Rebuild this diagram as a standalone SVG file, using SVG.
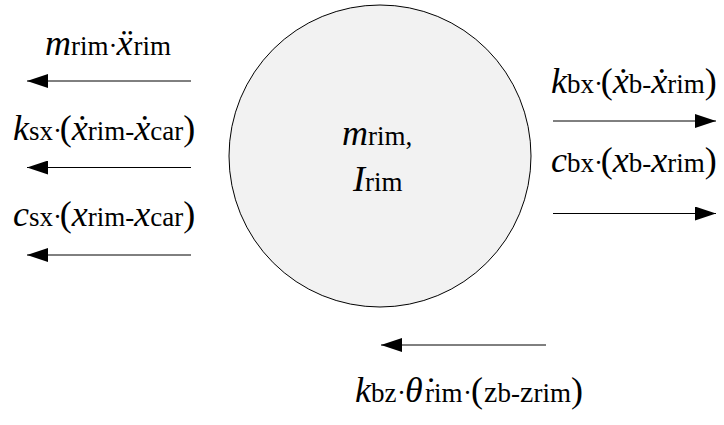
<svg xmlns="http://www.w3.org/2000/svg" width="724" height="425" viewBox="0 0 724 425">
<defs>
<marker id="ah" markerUnits="userSpaceOnUse" markerWidth="22" markerHeight="14" refX="21" refY="7" orient="auto">
<path d="M0,0 L21,7 L0,14 Z" fill="#000"/>
</marker>
</defs>
<g id="rim">
<circle cx="380" cy="156" r="151" fill="#f2f2f2" stroke="#000" stroke-width="1"/>
<text x="342" y="145" font-family="Liberation Serif" font-size="36" font-style="italic">m</text>
<text x="368" y="145" font-family="Liberation Serif" font-size="27">rim,</text>
<text x="353" y="191" font-family="Liberation Serif" font-size="36" font-style="italic">I</text>
<text x="365" y="191" font-family="Liberation Serif" font-size="27">rim</text>
</g>
<g id="connectors" stroke="#000" stroke-width="1" fill="none">
<line x1="191" y1="81" x2="27" y2="81" marker-end="url(#ah)"/>
<line x1="191" y1="167.5" x2="27" y2="167.5" marker-end="url(#ah)"/>
<line x1="191" y1="255" x2="27" y2="255" marker-end="url(#ah)"/>
<line x1="553" y1="121" x2="716" y2="121" marker-end="url(#ah)"/>
<line x1="553" y1="213.5" x2="716" y2="213.5" marker-end="url(#ah)"/>
<line x1="546" y1="345" x2="381" y2="345" marker-end="url(#ah)"/>
</g>
<g id="label-inertia">
<text x="45" y="55" font-family="Liberation Serif" font-size="36" font-style="italic">m</text>
<text x="71" y="55" font-family="Liberation Serif" font-size="27">rim</text>
<text x="108.5" y="55" font-family="Liberation Serif" font-size="27">·</text>
<text x="116.5" y="55" font-family="Liberation Serif" font-size="36" font-style="italic">ẍ</text>
<text x="133.5" y="55" font-family="Liberation Serif" font-size="27">rim</text>
</g>
<g id="label-ksx">
<text x="13" y="140" font-family="Liberation Serif" font-size="36" font-style="italic">k</text>
<text x="29" y="140" font-family="Liberation Serif" font-size="27">sx</text>
<text x="53" y="140" font-family="Liberation Serif" font-size="27">·</text>
<text x="59.75" y="140" font-family="Liberation Serif" font-size="36">(</text>
<text x="71.75" y="140" font-family="Liberation Serif" font-size="36" font-style="italic">ẋ</text>
<text x="87.75" y="140" font-family="Liberation Serif" font-size="27">rim</text>
<text x="125.25" y="140" font-family="Liberation Serif" font-size="27">-</text>
<text x="134.25" y="140" font-family="Liberation Serif" font-size="36" font-style="italic">ẋ</text>
<text x="150.25" y="140" font-family="Liberation Serif" font-size="27">car</text>
<text x="183.25" y="140" font-family="Liberation Serif" font-size="36">)</text>
</g>
<g id="label-csx">
<text x="13" y="226" font-family="Liberation Serif" font-size="36" font-style="italic">c</text>
<text x="29" y="226" font-family="Liberation Serif" font-size="27">sx</text>
<text x="53" y="226" font-family="Liberation Serif" font-size="27">·</text>
<text x="59.75" y="226" font-family="Liberation Serif" font-size="36">(</text>
<text x="71.75" y="226" font-family="Liberation Serif" font-size="36" font-style="italic">x</text>
<text x="87.75" y="226" font-family="Liberation Serif" font-size="27">rim</text>
<text x="125.25" y="226" font-family="Liberation Serif" font-size="27">-</text>
<text x="134.25" y="226" font-family="Liberation Serif" font-size="36" font-style="italic">x</text>
<text x="150.25" y="226" font-family="Liberation Serif" font-size="27">car</text>
<text x="183.25" y="226" font-family="Liberation Serif" font-size="36">)</text>
</g>
<g id="label-kbx">
<text x="551" y="93" font-family="Liberation Serif" font-size="36" font-style="italic">k</text>
<text x="567" y="93" font-family="Liberation Serif" font-size="27">bx</text>
<text x="594" y="93" font-family="Liberation Serif" font-size="27">·</text>
<text x="600.75" y="93" font-family="Liberation Serif" font-size="36">(</text>
<text x="612.75" y="93" font-family="Liberation Serif" font-size="36" font-style="italic">ẋ</text>
<text x="628.75" y="93" font-family="Liberation Serif" font-size="27">b</text>
<text x="642.25" y="93" font-family="Liberation Serif" font-size="27">-</text>
<text x="651.25" y="93" font-family="Liberation Serif" font-size="36" font-style="italic">ẋ</text>
<text x="667.25" y="93" font-family="Liberation Serif" font-size="27">rim</text>
<text x="704.75" y="93" font-family="Liberation Serif" font-size="36">)</text>
</g>
<g id="label-cbx">
<text x="551" y="172" font-family="Liberation Serif" font-size="36" font-style="italic">c</text>
<text x="567" y="172" font-family="Liberation Serif" font-size="27">bx</text>
<text x="594" y="172" font-family="Liberation Serif" font-size="27">·</text>
<text x="600.75" y="172" font-family="Liberation Serif" font-size="36">(</text>
<text x="612.75" y="172" font-family="Liberation Serif" font-size="36" font-style="italic">x</text>
<text x="628.75" y="172" font-family="Liberation Serif" font-size="27">b</text>
<text x="642.25" y="172" font-family="Liberation Serif" font-size="27">-</text>
<text x="651.25" y="172" font-family="Liberation Serif" font-size="36" font-style="italic">x</text>
<text x="667.25" y="172" font-family="Liberation Serif" font-size="27">rim</text>
<text x="704.75" y="172" font-family="Liberation Serif" font-size="36">)</text>
</g>
<g id="label-kbz">
<text x="355" y="402" font-family="Liberation Serif" font-size="36" font-style="italic">k</text>
<text x="371" y="402" font-family="Liberation Serif" font-size="27">bz</text>
<text x="397" y="402" font-family="Liberation Serif" font-size="27">·</text>
<text x="405" y="402" font-family="Liberation Serif" font-size="36" font-style="italic">θ̇</text>
<text x="425" y="402" font-family="Liberation Serif" font-size="27">rim</text>
<text x="463" y="402" font-family="Liberation Serif" font-size="27">·</text>
<text x="471" y="402" font-family="Liberation Serif" font-size="36">(</text>
<text x="484" y="402" font-family="Liberation Serif" font-size="30">z</text>
<text x="497.5" y="402" font-family="Liberation Serif" font-size="27">b</text>
<text x="511" y="402" font-family="Liberation Serif" font-size="27">-</text>
<text x="520" y="402" font-family="Liberation Serif" font-size="30">z</text>
<text x="533.5" y="402" font-family="Liberation Serif" font-size="27">rim</text>
<text x="571" y="402" font-family="Liberation Serif" font-size="36">)</text>
</g>
</svg>
